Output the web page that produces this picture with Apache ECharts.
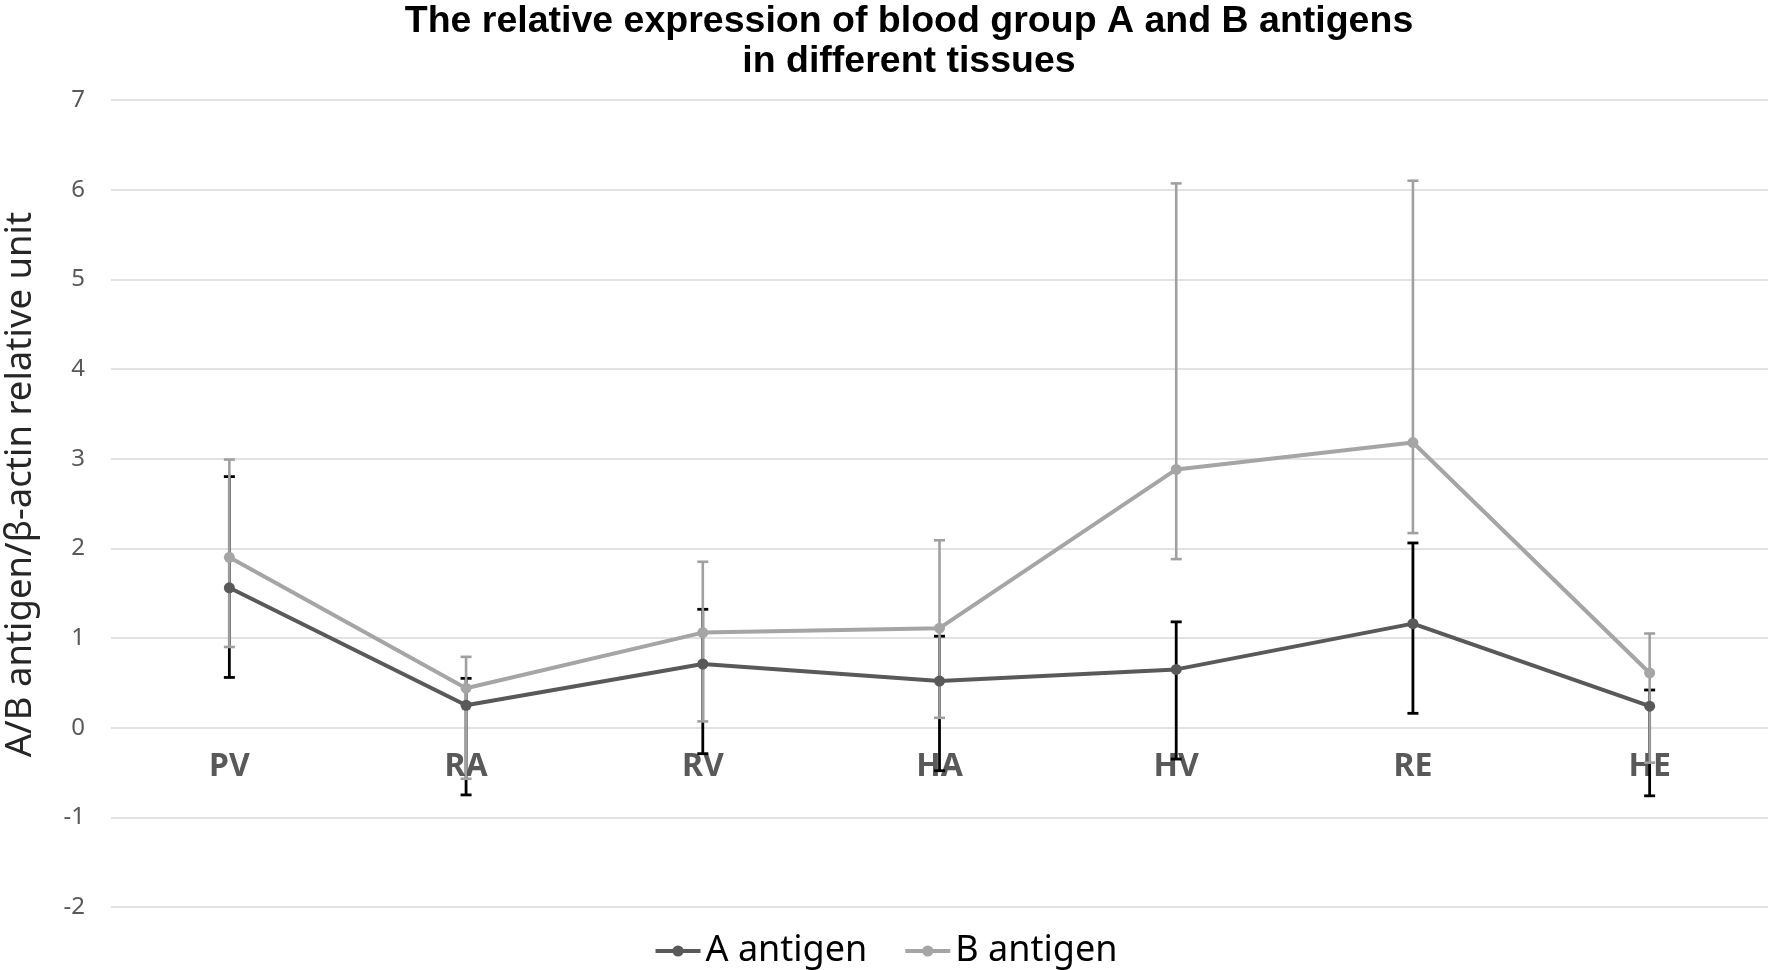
<!DOCTYPE html>
<html>
<head>
<meta charset="utf-8">
<script src="https://cdn.jsdelivr.net/npm/echarts@6/dist/echarts.min.js"></script>
<style>
  html, body { margin: 0; padding: 0; background: #fff; }
  #chart { width: 1771px; height: 970px; }
</style>
</head>
<body>
<div id="chart"></div>
<script>
const categories = ['PV', 'RA', 'RV', 'HA', 'HV', 'RE', 'HE'];
const aMean  = [1.56, 0.25, 0.71, 0.52, 0.65, 1.16, 0.24];
const aUpper = [2.80, 0.55, 1.32, 1.02, 1.18, 2.06, 0.42];
const aLower = [0.56, -0.75, -0.29, -0.48, -0.35, 0.16, -0.76];
const bMean  = [1.90, 0.44, 1.06, 1.11, 2.88, 3.18, 0.61];
const bUpper = [2.99, 0.79, 1.85, 2.09, 6.07, 6.10, 1.05];
const bLower = [0.90, -0.57, 0.07, 0.11, 1.88, 2.17, -0.39];
const yMin = -2, yMax = 7, yStep = 1;

const W = 1771, H = 970;
const gridTop = 100, gridBottom = 63;
const plotH = H - gridTop - gridBottom;
// move the category axis (and its labels) up to the zero line
const zeroOffset = -((0 - yMin) / (yMax - yMin)) * plotH;

function errRender(color, width, cap) {
  return function (params, api) {
    const x = api.value(0);
    const lo = api.coord([x, api.value(1)]);
    const hi = api.coord([x, api.value(2)]);
    const style = { stroke: color, lineWidth: width };
    return {
      type: 'group',
      children: [
        { type: 'line', shape: { x1: lo[0], y1: lo[1], x2: hi[0], y2: hi[1] }, style: style },
        { type: 'line', shape: { x1: lo[0] - cap, y1: lo[1], x2: lo[0] + cap, y2: lo[1] }, style: style },
        { type: 'line', shape: { x1: hi[0] - cap, y1: hi[1], x2: hi[0] + cap, y2: hi[1] }, style: style }
      ]
    };
  };
}

const chart = echarts.init(document.getElementById('chart'), null, { renderer: 'canvas' });
chart.setOption({
  animation: false,
  backgroundColor: '#ffffff',
  title: {
    text: 'The relative expression of blood group A and B antigens\nin different tissues',
    left: 904,
    textAlign: 'center',
    top: -3,
    textStyle: { fontFamily: 'Liberation Sans', fontWeight: 'bold', fontSize: 37.5, lineHeight: 40, color: '#000' }
  },
  legend: {
    data: ['A antigen', 'B antigen'],
    left: 'center',
    top: 928,
    itemWidth: 45,
    itemHeight: 14,
    itemGap: 36,
    lineStyle: { width: 4 },
    textStyle: { fontFamily: 'Noto Sans', fontSize: 36, color: '#000' }
  },
  grid: { left: 111, right: 3, top: gridTop, bottom: gridBottom, containLabel: false, outerBoundsMode: 'none' },
  xAxis: {
    type: 'category',
    data: categories,
    boundaryGap: true,
    offset: zeroOffset,
    axisLine: { show: false, onZero: false },
    axisTick: { show: false },
    axisLabel: { fontFamily: 'Noto Sans', fontWeight: 'bold', fontSize: 32, color: '#595959', margin: 23 },
    splitLine: { show: false }
  },
  yAxis: {
    type: 'value',
    min: yMin,
    max: yMax,
    interval: yStep,
    name: 'A/B antigen/β-actin relative unit',
    nameLocation: 'middle',
    nameGap: 72,
    nameTextStyle: { fontFamily: 'Noto Sans', fontSize: 36.5, color: '#262626', padding: [0, 0, 0, 38] },
    axisLine: { show: false },
    axisTick: { show: false },
    axisLabel: { fontFamily: 'Noto Sans', fontSize: 24, color: '#595959', margin: 26 },
    splitLine: { lineStyle: { color: '#d9d9d9', width: 1.5 } }
  },
  series: [
    {
      name: 'A err', type: 'custom',
      renderItem: errRender('#000000', 2.8, 5.5),
      encode: { x: 0, y: [1, 2] },
      data: categories.map((c, i) => [i, aLower[i], aUpper[i]]),
      z: 2
    },
    {
      name: 'B err', type: 'custom',
      renderItem: errRender('#a0a0a0', 2.6, 5.5),
      encode: { x: 0, y: [1, 2] },
      data: categories.map((c, i) => [i, bLower[i], bUpper[i]]),
      z: 2
    },
    {
      name: 'A antigen', type: 'line',
      data: aMean,
      symbol: 'circle', symbolSize: 11,
      lineStyle: { color: '#595959', width: 4 },
      itemStyle: { color: '#595959' },
      z: 3
    },
    {
      name: 'B antigen', type: 'line',
      data: bMean,
      symbol: 'circle', symbolSize: 11,
      lineStyle: { color: '#a5a5a5', width: 4 },
      itemStyle: { color: '#a5a5a5' },
      z: 3
    }
  ]
});
</script>
</body>
</html>
